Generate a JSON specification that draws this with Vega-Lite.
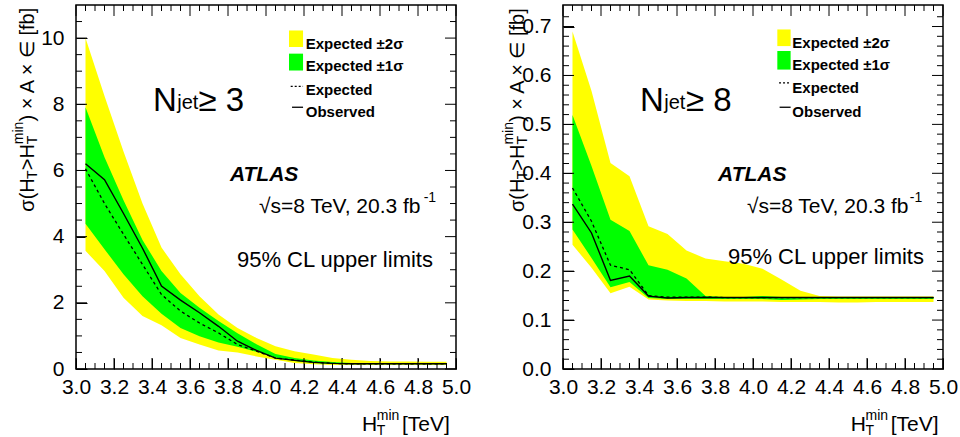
{
"$schema": "https://vega.github.io/schema/vega-lite/v6.json",
"background": "white",
"padding": {"left": 10, "top": 3, "right": 5, "bottom": 0},
"spacing": 28,
"config": {
  "view": {"stroke": "black", "strokeWidth": 1.5},
  "axis": {"labelColor": "black", "labelFont": "Liberation Sans", "labelFontSize": 21, "grid": false, "labelFlush": false, "labelOverlap": false, "domain": false, "ticks": true, "tickColor": "#000000", "tickOpacity": 1, "tickWidth": 1},
  "text": {"font": "Liberation Sans", "color": "black"},
  "rule": {"color": "black", "strokeWidth": 1}
},
"datasets": {
  "one": [{}],
  "xmaj": [{"v":3},{"v":3.2},{"v":3.4},{"v":3.6},{"v":3.8},{"v":4},{"v":4.2},{"v":4.4},{"v":4.6},{"v":4.8},{"v":5}],
  "xmin": [{"v":3.05},{"v":3.1},{"v":3.15},{"v":3.25},{"v":3.3},{"v":3.35},{"v":3.45},{"v":3.5},{"v":3.55},{"v":3.65},{"v":3.7},{"v":3.75},{"v":3.85},{"v":3.9},{"v":3.95},{"v":4.05},{"v":4.1},{"v":4.15},{"v":4.25},{"v":4.3},{"v":4.35},{"v":4.45},{"v":4.5},{"v":4.55},{"v":4.65},{"v":4.7},{"v":4.75},{"v":4.85},{"v":4.9},{"v":4.95}],
  "ymaj3": [{"v":0},{"v":2},{"v":4},{"v":6},{"v":8},{"v":10}],
  "ymin3": [{"v":0.5},{"v":1},{"v":1.5},{"v":2.5},{"v":3},{"v":3.5},{"v":4.5},{"v":5},{"v":5.5},{"v":6.5},{"v":7},{"v":7.5},{"v":8.5},{"v":9},{"v":9.5},{"v":10.5}],
  "ymaj8": [{"v":0},{"v":0.1},{"v":0.2},{"v":0.3},{"v":0.4},{"v":0.5},{"v":0.6},{"v":0.7}],
  "ymin8": [{"v":0.02},{"v":0.04},{"v":0.06},{"v":0.08},{"v":0.12},{"v":0.14},{"v":0.16},{"v":0.18},{"v":0.22},{"v":0.24},{"v":0.26},{"v":0.28},{"v":0.32},{"v":0.34},{"v":0.36},{"v":0.38},{"v":0.42},{"v":0.44},{"v":0.46},{"v":0.48},{"v":0.52},{"v":0.54},{"v":0.56},{"v":0.58},{"v":0.62},{"v":0.64},{"v":0.66},{"v":0.68},{"v":0.72}],
  "n3": [
    {"x":3.05,"lo2":3.57,"lo1":4.39,"hi1":7.91,"hi2":10.0,"exp":6.05,"obs":6.2},
    {"x":3.15,"lo2":2.96,"lo1":3.62,"hi1":6.4,"hi2":8.25,"exp":5.0,"obs":5.72},
    {"x":3.25,"lo2":2.15,"lo1":2.86,"hi1":5.1,"hi2":6.57,"exp":4.07,"obs":4.7},
    {"x":3.35,"lo2":1.6,"lo1":2.2,"hi1":3.9,"hi2":5.0,"exp":3.16,"obs":3.65},
    {"x":3.45,"lo2":1.32,"lo1":1.67,"hi1":2.96,"hi2":3.67,"exp":2.25,"obs":2.51},
    {"x":3.55,"lo2":0.94,"lo1":1.24,"hi1":2.3,"hi2":2.86,"exp":1.75,"obs":2.08},
    {"x":3.65,"lo2":0.74,"lo1":0.99,"hi1":1.85,"hi2":2.2,"exp":1.39,"obs":1.7},
    {"x":3.75,"lo2":0.56,"lo1":0.8,"hi1":1.45,"hi2":1.65,"exp":1.09,"obs":1.29},
    {"x":3.85,"lo2":0.5,"lo1":0.67,"hi1":1.08,"hi2":1.24,"exp":0.74,"obs":0.84},
    {"x":3.95,"lo2":0.38,"lo1":0.52,"hi1":0.75,"hi2":0.94,"exp":0.54,"obs":0.56},
    {"x":4.05,"lo2":0.28,"lo1":0.35,"hi1":0.45,"hi2":0.69,"exp":0.33,"obs":0.33},
    {"x":4.15,"lo2":0.18,"lo1":0.24,"hi1":0.33,"hi2":0.54,"exp":0.27,"obs":0.26},
    {"x":4.25,"lo2":0.14,"lo1":0.18,"hi1":0.26,"hi2":0.44,"exp":0.21,"obs":0.2},
    {"x":4.35,"lo2":0.12,"lo1":0.15,"hi1":0.21,"hi2":0.33,"exp":0.17,"obs":0.17},
    {"x":4.45,"lo2":0.12,"lo1":0.14,"hi1":0.18,"hi2":0.28,"exp":0.155,"obs":0.16},
    {"x":4.55,"lo2":0.12,"lo1":0.14,"hi1":0.17,"hi2":0.24,"exp":0.155,"obs":0.16},
    {"x":4.65,"lo2":0.12,"lo1":0.14,"hi1":0.17,"hi2":0.23,"exp":0.155,"obs":0.16},
    {"x":4.75,"lo2":0.12,"lo1":0.14,"hi1":0.17,"hi2":0.23,"exp":0.155,"obs":0.16},
    {"x":4.85,"lo2":0.12,"lo1":0.14,"hi1":0.17,"hi2":0.22,"exp":0.155,"obs":0.16},
    {"x":4.95,"lo2":0.12,"lo1":0.14,"hi1":0.17,"hi2":0.22,"exp":0.155,"obs":0.16}
  ],
  "n8": [
    {"x":3.05,"lo2":0.254,"lo1":0.285,"hi1":0.519,"hi2":0.690,"exp":0.370,"obs":0.337},
    {"x":3.15,"lo2":0.207,"lo1":0.227,"hi1":0.415,"hi2":0.568,"exp":0.302,"obs":0.278},
    {"x":3.25,"lo2":0.155,"lo1":0.167,"hi1":0.305,"hi2":0.421,"exp":0.212,"obs":0.181},
    {"x":3.35,"lo2":0.168,"lo1":0.178,"hi1":0.282,"hi2":0.394,"exp":0.203,"obs":0.190},
    {"x":3.45,"lo2":0.142,"lo1":0.145,"hi1":0.212,"hi2":0.292,"exp":0.150,"obs":0.149},
    {"x":3.55,"lo2":0.140,"lo1":0.143,"hi1":0.203,"hi2":0.276,"exp":0.147,"obs":0.145},
    {"x":3.65,"lo2":0.139,"lo1":0.143,"hi1":0.185,"hi2":0.242,"exp":0.147,"obs":0.146},
    {"x":3.75,"lo2":0.139,"lo1":0.143,"hi1":0.149,"hi2":0.226,"exp":0.147,"obs":0.146},
    {"x":3.85,"lo2":0.138,"lo1":0.143,"hi1":0.147,"hi2":0.220,"exp":0.146,"obs":0.146},
    {"x":3.95,"lo2":0.138,"lo1":0.143,"hi1":0.147,"hi2":0.215,"exp":0.146,"obs":0.146},
    {"x":4.05,"lo2":0.138,"lo1":0.143,"hi1":0.149,"hi2":0.205,"exp":0.146,"obs":0.146},
    {"x":4.15,"lo2":0.137,"lo1":0.141,"hi1":0.147,"hi2":0.183,"exp":0.146,"obs":0.146},
    {"x":4.25,"lo2":0.137,"lo1":0.142,"hi1":0.147,"hi2":0.160,"exp":0.146,"obs":0.146},
    {"x":4.35,"lo2":0.137,"lo1":0.143,"hi1":0.147,"hi2":0.149,"exp":0.146,"obs":0.146},
    {"x":4.45,"lo2":0.136,"lo1":0.143,"hi1":0.147,"hi2":0.148,"exp":0.146,"obs":0.146},
    {"x":4.55,"lo2":0.136,"lo1":0.143,"hi1":0.147,"hi2":0.148,"exp":0.146,"obs":0.146},
    {"x":4.65,"lo2":0.137,"lo1":0.143,"hi1":0.147,"hi2":0.148,"exp":0.146,"obs":0.146},
    {"x":4.75,"lo2":0.137,"lo1":0.143,"hi1":0.147,"hi2":0.148,"exp":0.146,"obs":0.146},
    {"x":4.85,"lo2":0.137,"lo1":0.143,"hi1":0.147,"hi2":0.148,"exp":0.146,"obs":0.146},
    {"x":4.95,"lo2":0.137,"lo1":0.143,"hi1":0.147,"hi2":0.148,"exp":0.146,"obs":0.146}
  ]
},
"hconcat": [
{
  "width": 380, "height": 364,
  "resolve": {"axis": {"x": "independent", "y": "independent"}},
  "layer": [
    {"data": {"name": "n3"}, "mark": {"type": "area", "color": "#ffff00"},
     "encoding": {
       "x": {"field": "x", "type": "quantitative", "scale": {"domain": [3, 5], "nice": false, "zero": false},
             "axis": {"orient": "bottom", "title": null, "values": [3,3.2,3.4,3.6,3.8,4,4.2,4.4,4.6,4.8,5], "format": ".1f", "offset": -11, "tickSize": 11, "labelPadding": 7}},
       "y": {"field": "lo2", "type": "quantitative", "scale": {"domain": [0, 11], "nice": false, "zero": false},
             "axis": {"orient": "left", "title": null, "values": [0,2,4,6,8,10], "offset": -11, "tickSize": 11, "labelPadding": 12}},
       "y2": {"field": "hi2"}}},
    {"data": {"name": "n3"}, "mark": {"type": "area", "color": "#00ff00"},
     "encoding": {"x": {"field": "x", "type": "quantitative", "axis": null}, "y": {"field": "lo1", "type": "quantitative", "axis": null}, "y2": {"field": "hi1"}}},
    {"data": {"name": "n3"}, "mark": {"type": "line", "color": "black", "strokeWidth": 1.3, "strokeDash": [3, 3]},
     "encoding": {"x": {"field": "x", "type": "quantitative", "axis": null}, "y": {"field": "exp", "type": "quantitative", "axis": null}}},
    {"data": {"name": "n3"}, "mark": {"type": "line", "color": "black", "strokeWidth": 1.4},
     "encoding": {"x": {"field": "x", "type": "quantitative", "axis": null}, "y": {"field": "obs", "type": "quantitative", "axis": null}}},
    {"data": {"name": "xmaj"}, "mark": {"type": "rule", "y2Offset": -11},
     "encoding": {"x": {"field": "v", "type": "quantitative", "axis": null}, "y": {"datum": 0, "type": "quantitative", "axis": null}, "y2": {"datum": 0}}},
    {"data": {"name": "xmin"}, "mark": {"type": "rule", "y2Offset": -6},
     "encoding": {"x": {"field": "v", "type": "quantitative", "axis": null}, "y": {"datum": 0, "type": "quantitative", "axis": null}, "y2": {"datum": 0}}},
    {"data": {"name": "xmaj"}, "mark": {"type": "rule", "y2Offset": 11},
     "encoding": {"x": {"field": "v", "type": "quantitative", "axis": null}, "y": {"datum": 11, "type": "quantitative", "axis": null}, "y2": {"datum": 11}}},
    {"data": {"name": "xmin"}, "mark": {"type": "rule", "y2Offset": 6},
     "encoding": {"x": {"field": "v", "type": "quantitative", "axis": null}, "y": {"datum": 11, "type": "quantitative", "axis": null}, "y2": {"datum": 11}}},
    {"data": {"name": "ymaj3"}, "mark": {"type": "rule", "x2Offset": 11},
     "encoding": {"y": {"field": "v", "type": "quantitative", "axis": null}, "x": {"datum": 3, "type": "quantitative", "axis": null}, "x2": {"datum": 3}}},
    {"data": {"name": "ymin3"}, "mark": {"type": "rule", "x2Offset": 6},
     "encoding": {"y": {"field": "v", "type": "quantitative", "axis": null}, "x": {"datum": 3, "type": "quantitative", "axis": null}, "x2": {"datum": 3}}},
    {"data": {"name": "ymaj3"}, "mark": {"type": "rule", "x2Offset": -11},
     "encoding": {"y": {"field": "v", "type": "quantitative", "axis": null}, "x": {"datum": 5, "type": "quantitative", "axis": null}, "x2": {"datum": 5}}},
    {"data": {"name": "ymin3"}, "mark": {"type": "rule", "x2Offset": -6},
     "encoding": {"y": {"field": "v", "type": "quantitative", "axis": null}, "x": {"datum": 5, "type": "quantitative", "axis": null}, "x2": {"datum": 5}}},
    {"data": {"name": "one"}, "mark": {"type": "rect", "color": "#ffff00"},
     "encoding": {"x": {"datum": 4.121, "type": "quantitative", "axis": null}, "x2": {"datum": 4.195},
                  "y": {"datum": 9.73, "type": "quantitative", "axis": null}, "y2": {"datum": 10.23}}},
    {"data": {"name": "one"}, "mark": {"type": "rect", "color": "#00ff00"},
     "encoding": {"x": {"datum": 4.121, "type": "quantitative", "axis": null}, "x2": {"datum": 4.195},
                  "y": {"datum": 9.02, "type": "quantitative", "axis": null}, "y2": {"datum": 9.53}}},
    {"data": {"name": "one"}, "mark": {"type": "rule", "color": "black", "strokeWidth": 1.2, "strokeDash": [2, 2]},
     "encoding": {"x": {"datum": 4.13, "type": "quantitative", "axis": null}, "x2": {"datum": 4.195},
                  "y": {"datum": 8.54, "type": "quantitative", "axis": null}}},
    {"data": {"name": "one"}, "mark": {"type": "rule", "color": "black", "strokeWidth": 1.3},
     "encoding": {"x": {"datum": 4.137, "type": "quantitative", "axis": null}, "x2": {"datum": 4.195},
                  "y": {"datum": 7.91, "type": "quantitative", "axis": null}}},
    {"data": {"name": "one"}, "mark": {"type": "text", "text": "Expected ±2σ", "fontSize": 15, "fontWeight": "bold", "align": "left"},
     "encoding": {"x": {"datum": 4.209, "type": "quantitative", "axis": null}, "y": {"datum": 9.83, "type": "quantitative", "axis": null}}},
    {"data": {"name": "one"}, "mark": {"type": "text", "text": "Expected ±1σ", "fontSize": 15, "fontWeight": "bold", "align": "left"},
     "encoding": {"x": {"datum": 4.209, "type": "quantitative", "axis": null}, "y": {"datum": 9.15, "type": "quantitative", "axis": null}}},
    {"data": {"name": "one"}, "mark": {"type": "text", "text": "Expected", "fontSize": 15, "fontWeight": "bold", "align": "left"},
     "encoding": {"x": {"datum": 4.209, "type": "quantitative", "axis": null}, "y": {"datum": 8.44, "type": "quantitative", "axis": null}}},
    {"data": {"name": "one"}, "mark": {"type": "text", "text": "Observed", "fontSize": 15, "fontWeight": "bold", "align": "left"},
     "encoding": {"x": {"datum": 4.209, "type": "quantitative", "axis": null}, "y": {"datum": 7.76, "type": "quantitative", "axis": null}}},
    {"data": {"name": "one"}, "mark": {"type": "text", "text": "N", "fontSize": 33, "align": "left"},
     "encoding": {"x": {"datum": 3.405, "type": "quantitative", "axis": null}, "y": {"datum": 8.11, "type": "quantitative", "axis": null}}},
    {"data": {"name": "one"}, "mark": {"type": "text", "text": "jet", "fontSize": 20, "align": "left"},
     "encoding": {"x": {"datum": 3.533, "type": "quantitative", "axis": null}, "y": {"datum": 8.05, "type": "quantitative", "axis": null}}},
    {"data": {"name": "one"}, "mark": {"type": "text", "text": "≥ 3", "fontSize": 33, "align": "left"},
     "encoding": {"x": {"datum": 3.645, "type": "quantitative", "axis": null}, "y": {"datum": 8.11, "type": "quantitative", "axis": null}}},
    {"data": {"name": "one"}, "mark": {"type": "text", "text": "ATLAS", "fontSize": 21, "fontWeight": "bold", "fontStyle": "italic", "align": "left"},
     "encoding": {"x": {"datum": 3.81, "type": "quantitative", "axis": null}, "y": {"datum": 5.87, "type": "quantitative", "axis": null}}},
    {"data": {"name": "one"}, "mark": {"type": "text", "text": "√s=8 TeV, 20.3 fb", "fontSize": 21, "align": "left"},
     "encoding": {"x": {"datum": 3.963, "type": "quantitative", "axis": null}, "y": {"datum": 4.9, "type": "quantitative", "axis": null}}},
    {"data": {"name": "one"}, "mark": {"type": "text", "text": "-1", "fontSize": 14, "align": "left"},
     "encoding": {"x": {"datum": 4.83, "type": "quantitative", "axis": null}, "y": {"datum": 5.17, "type": "quantitative", "axis": null}}},
    {"data": {"name": "one"}, "mark": {"type": "text", "text": "95% CL upper limits", "fontSize": 22, "align": "left"},
     "encoding": {"x": {"datum": 3.847, "type": "quantitative", "axis": null}, "y": {"datum": 3.29, "type": "quantitative", "axis": null}}},
    {"data": {"name": "one"}, "mark": {"type": "text", "text": "σ(H", "fontSize": 20, "align": "left", "angle": 270},
     "encoding": {"x": {"datum": 2.745, "type": "quantitative", "axis": null}, "y": {"datum": 4.755, "type": "quantitative", "axis": null}}},
    {"data": {"name": "one"}, "mark": {"type": "text", "text": "T", "fontSize": 14, "align": "left", "angle": 270, "dy": 5},
     "encoding": {"x": {"datum": 2.745, "type": "quantitative", "axis": null}, "y": {"datum": 5.745, "type": "quantitative", "axis": null}}},
    {"data": {"name": "one"}, "mark": {"type": "text", "text": ">H", "fontSize": 20, "align": "left", "angle": 270},
     "encoding": {"x": {"datum": 2.745, "type": "quantitative", "axis": null}, "y": {"datum": 6.006, "type": "quantitative", "axis": null}}},
    {"data": {"name": "one"}, "mark": {"type": "text", "text": "T", "fontSize": 14, "align": "left", "angle": 270, "dy": 5},
     "encoding": {"x": {"datum": 2.745, "type": "quantitative", "axis": null}, "y": {"datum": 6.794, "type": "quantitative", "axis": null}}},
    {"data": {"name": "one"}, "mark": {"type": "text", "text": "min", "fontSize": 14, "align": "left", "angle": 270, "dy": -9},
     "encoding": {"x": {"datum": 2.745, "type": "quantitative", "axis": null}, "y": {"datum": 6.794, "type": "quantitative", "axis": null}}},
    {"data": {"name": "one"}, "mark": {"type": "text", "text": ") × A × ∈ [fb]", "fontSize": 20, "align": "left", "angle": 270},
     "encoding": {"x": {"datum": 2.745, "type": "quantitative", "axis": null}, "y": {"datum": 7.479, "type": "quantitative", "axis": null}}},
    {"data": {"name": "one"}, "mark": {"type": "text", "text": "H", "fontSize": 21, "align": "left"},
     "encoding": {"x": {"datum": 4.505, "type": "quantitative", "axis": null}, "y": {"datum": -1.70, "type": "quantitative", "axis": null}}},
    {"data": {"name": "one"}, "mark": {"type": "text", "text": "T", "fontSize": 14, "align": "left", "dy": 6},
     "encoding": {"x": {"datum": 4.583, "type": "quantitative", "axis": null}, "y": {"datum": -1.70, "type": "quantitative", "axis": null}}},
    {"data": {"name": "one"}, "mark": {"type": "text", "text": "min", "fontSize": 14, "align": "left", "dy": -9},
     "encoding": {"x": {"datum": 4.583, "type": "quantitative", "axis": null}, "y": {"datum": -1.70, "type": "quantitative", "axis": null}}},
    {"data": {"name": "one"}, "mark": {"type": "text", "text": "[TeV]", "fontSize": 21, "align": "left"},
     "encoding": {"x": {"datum": 4.716, "type": "quantitative", "axis": null}, "y": {"datum": -1.70, "type": "quantitative", "axis": null}}}
  ]
},
{
  "width": 380, "height": 364,
  "resolve": {"axis": {"x": "independent", "y": "independent"}},
  "layer": [
    {"data": {"name": "n8"}, "mark": {"type": "area", "color": "#ffff00"},
     "encoding": {
       "x": {"field": "x", "type": "quantitative", "scale": {"domain": [3, 5], "nice": false, "zero": false},
             "axis": {"orient": "bottom", "title": null, "values": [3,3.2,3.4,3.6,3.8,4,4.2,4.4,4.6,4.8,5], "format": ".1f", "offset": -11, "tickSize": 11, "labelPadding": 7}},
       "y": {"field": "lo2", "type": "quantitative", "scale": {"domain": [0, 0.744], "nice": false, "zero": false},
             "axis": {"orient": "left", "title": null, "values": [0,0.1,0.2,0.3,0.4,0.5,0.6,0.7], "format": ".1f", "offset": -11, "tickSize": 11, "labelPadding": 12}},
       "y2": {"field": "hi2"}}},
    {"data": {"name": "n8"}, "mark": {"type": "area", "color": "#00ff00"},
     "encoding": {"x": {"field": "x", "type": "quantitative", "axis": null}, "y": {"field": "lo1", "type": "quantitative", "axis": null}, "y2": {"field": "hi1"}}},
    {"data": {"name": "n8"}, "mark": {"type": "line", "color": "black", "strokeWidth": 1.3, "strokeDash": [3, 3]},
     "encoding": {"x": {"field": "x", "type": "quantitative", "axis": null}, "y": {"field": "exp", "type": "quantitative", "axis": null}}},
    {"data": {"name": "n8"}, "mark": {"type": "line", "color": "black", "strokeWidth": 1.4},
     "encoding": {"x": {"field": "x", "type": "quantitative", "axis": null}, "y": {"field": "obs", "type": "quantitative", "axis": null}}},
    {"data": {"name": "xmaj"}, "mark": {"type": "rule", "y2Offset": -11},
     "encoding": {"x": {"field": "v", "type": "quantitative", "axis": null}, "y": {"datum": 0, "type": "quantitative", "axis": null}, "y2": {"datum": 0}}},
    {"data": {"name": "xmin"}, "mark": {"type": "rule", "y2Offset": -6},
     "encoding": {"x": {"field": "v", "type": "quantitative", "axis": null}, "y": {"datum": 0, "type": "quantitative", "axis": null}, "y2": {"datum": 0}}},
    {"data": {"name": "xmaj"}, "mark": {"type": "rule", "y2Offset": 11},
     "encoding": {"x": {"field": "v", "type": "quantitative", "axis": null}, "y": {"datum": 0.744, "type": "quantitative", "axis": null}, "y2": {"datum": 0.744}}},
    {"data": {"name": "xmin"}, "mark": {"type": "rule", "y2Offset": 6},
     "encoding": {"x": {"field": "v", "type": "quantitative", "axis": null}, "y": {"datum": 0.744, "type": "quantitative", "axis": null}, "y2": {"datum": 0.744}}},
    {"data": {"name": "ymaj8"}, "mark": {"type": "rule", "x2Offset": 11},
     "encoding": {"y": {"field": "v", "type": "quantitative", "axis": null}, "x": {"datum": 3, "type": "quantitative", "axis": null}, "x2": {"datum": 3}}},
    {"data": {"name": "ymin8"}, "mark": {"type": "rule", "x2Offset": 6},
     "encoding": {"y": {"field": "v", "type": "quantitative", "axis": null}, "x": {"datum": 3, "type": "quantitative", "axis": null}, "x2": {"datum": 3}}},
    {"data": {"name": "ymaj8"}, "mark": {"type": "rule", "x2Offset": -11},
     "encoding": {"y": {"field": "v", "type": "quantitative", "axis": null}, "x": {"datum": 5, "type": "quantitative", "axis": null}, "x2": {"datum": 5}}},
    {"data": {"name": "ymin8"}, "mark": {"type": "rule", "x2Offset": -6},
     "encoding": {"y": {"field": "v", "type": "quantitative", "axis": null}, "x": {"datum": 5, "type": "quantitative", "axis": null}, "x2": {"datum": 5}}},
    {"data": {"name": "one"}, "mark": {"type": "rect", "color": "#ffff00"},
     "encoding": {"x": {"datum": 4.128, "type": "quantitative", "axis": null}, "x2": {"datum": 4.198},
                  "y": {"datum": 0.660, "type": "quantitative", "axis": null}, "y2": {"datum": 0.694}}},
    {"data": {"name": "one"}, "mark": {"type": "rect", "color": "#00ff00"},
     "encoding": {"x": {"datum": 4.128, "type": "quantitative", "axis": null}, "x2": {"datum": 4.198},
                  "y": {"datum": 0.612, "type": "quantitative", "axis": null}, "y2": {"datum": 0.650}}},
    {"data": {"name": "one"}, "mark": {"type": "rule", "color": "black", "strokeWidth": 1.2, "strokeDash": [2, 2]},
     "encoding": {"x": {"datum": 4.137, "type": "quantitative", "axis": null}, "x2": {"datum": 4.198},
                  "y": {"datum": 0.585, "type": "quantitative", "axis": null}}},
    {"data": {"name": "one"}, "mark": {"type": "rule", "color": "black", "strokeWidth": 1.3},
     "encoding": {"x": {"datum": 4.14, "type": "quantitative", "axis": null}, "x2": {"datum": 4.198},
                  "y": {"datum": 0.535, "type": "quantitative", "axis": null}}},
    {"data": {"name": "one"}, "mark": {"type": "text", "text": "Expected ±2σ", "fontSize": 15, "fontWeight": "bold", "align": "left"},
     "encoding": {"x": {"datum": 4.207, "type": "quantitative", "axis": null}, "y": {"datum": 0.6667, "type": "quantitative", "axis": null}}},
    {"data": {"name": "one"}, "mark": {"type": "text", "text": "Expected ±1σ", "fontSize": 15, "fontWeight": "bold", "align": "left"},
     "encoding": {"x": {"datum": 4.207, "type": "quantitative", "axis": null}, "y": {"datum": 0.621, "type": "quantitative", "axis": null}}},
    {"data": {"name": "one"}, "mark": {"type": "text", "text": "Expected", "fontSize": 15, "fontWeight": "bold", "align": "left"},
     "encoding": {"x": {"datum": 4.207, "type": "quantitative", "axis": null}, "y": {"datum": 0.5734, "type": "quantitative", "axis": null}}},
    {"data": {"name": "one"}, "mark": {"type": "text", "text": "Observed", "fontSize": 15, "fontWeight": "bold", "align": "left"},
     "encoding": {"x": {"datum": 4.207, "type": "quantitative", "axis": null}, "y": {"datum": 0.5256, "type": "quantitative", "axis": null}}},
    {"data": {"name": "one"}, "mark": {"type": "text", "text": "N", "fontSize": 33, "align": "left"},
     "encoding": {"x": {"datum": 3.405, "type": "quantitative", "axis": null}, "y": {"datum": 0.5474, "type": "quantitative", "axis": null}}},
    {"data": {"name": "one"}, "mark": {"type": "text", "text": "jet", "fontSize": 20, "align": "left"},
     "encoding": {"x": {"datum": 3.533, "type": "quantitative", "axis": null}, "y": {"datum": 0.5434, "type": "quantitative", "axis": null}}},
    {"data": {"name": "one"}, "mark": {"type": "text", "text": "≥ 8", "fontSize": 33, "align": "left"},
     "encoding": {"x": {"datum": 3.647, "type": "quantitative", "axis": null}, "y": {"datum": 0.5474, "type": "quantitative", "axis": null}}},
    {"data": {"name": "one"}, "mark": {"type": "text", "text": "ATLAS", "fontSize": 21, "fontWeight": "bold", "fontStyle": "italic", "align": "left"},
     "encoding": {"x": {"datum": 3.816, "type": "quantitative", "axis": null}, "y": {"datum": 0.3961, "type": "quantitative", "axis": null}}},
    {"data": {"name": "one"}, "mark": {"type": "text", "text": "√s=8 TeV, 20.3 fb", "fontSize": 21, "align": "left"},
     "encoding": {"x": {"datum": 3.968, "type": "quantitative", "axis": null}, "y": {"datum": 0.3307, "type": "quantitative", "axis": null}}},
    {"data": {"name": "one"}, "mark": {"type": "text", "text": "-1", "fontSize": 14, "align": "left"},
     "encoding": {"x": {"datum": 4.825, "type": "quantitative", "axis": null}, "y": {"datum": 0.3491, "type": "quantitative", "axis": null}}},
    {"data": {"name": "one"}, "mark": {"type": "text", "text": "95% CL upper limits", "fontSize": 22, "align": "left"},
     "encoding": {"x": {"datum": 3.868, "type": "quantitative", "axis": null}, "y": {"datum": 0.2284, "type": "quantitative", "axis": null}}},
    {"data": {"name": "one"}, "mark": {"type": "text", "text": "σ(H", "fontSize": 20, "align": "left", "angle": 270},
     "encoding": {"x": {"datum": 2.761, "type": "quantitative", "axis": null}, "y": {"datum": 0.3209, "type": "quantitative", "axis": null}}},
    {"data": {"name": "one"}, "mark": {"type": "text", "text": "T", "fontSize": 14, "align": "left", "angle": 270, "dy": 5},
     "encoding": {"x": {"datum": 2.761, "type": "quantitative", "axis": null}, "y": {"datum": 0.3877, "type": "quantitative", "axis": null}}},
    {"data": {"name": "one"}, "mark": {"type": "text", "text": ">H", "fontSize": 20, "align": "left", "angle": 270},
     "encoding": {"x": {"datum": 2.761, "type": "quantitative", "axis": null}, "y": {"datum": 0.4053, "type": "quantitative", "axis": null}}},
    {"data": {"name": "one"}, "mark": {"type": "text", "text": "T", "fontSize": 14, "align": "left", "angle": 270, "dy": 5},
     "encoding": {"x": {"datum": 2.761, "type": "quantitative", "axis": null}, "y": {"datum": 0.4587, "type": "quantitative", "axis": null}}},
    {"data": {"name": "one"}, "mark": {"type": "text", "text": "min", "fontSize": 14, "align": "left", "angle": 270, "dy": -9},
     "encoding": {"x": {"datum": 2.761, "type": "quantitative", "axis": null}, "y": {"datum": 0.4587, "type": "quantitative", "axis": null}}},
    {"data": {"name": "one"}, "mark": {"type": "text", "text": ") × A × ∈ [fb]", "fontSize": 20, "align": "left", "angle": 270},
     "encoding": {"x": {"datum": 2.761, "type": "quantitative", "axis": null}, "y": {"datum": 0.5049, "type": "quantitative", "axis": null}}},
    {"data": {"name": "one"}, "mark": {"type": "text", "text": "H", "fontSize": 21, "align": "left"},
     "encoding": {"x": {"datum": 4.514, "type": "quantitative", "axis": null}, "y": {"datum": -0.1135, "type": "quantitative", "axis": null}}},
    {"data": {"name": "one"}, "mark": {"type": "text", "text": "T", "fontSize": 14, "align": "left", "dy": 6},
     "encoding": {"x": {"datum": 4.592, "type": "quantitative", "axis": null}, "y": {"datum": -0.1135, "type": "quantitative", "axis": null}}},
    {"data": {"name": "one"}, "mark": {"type": "text", "text": "min", "fontSize": 14, "align": "left", "dy": -9},
     "encoding": {"x": {"datum": 4.592, "type": "quantitative", "axis": null}, "y": {"datum": -0.1135, "type": "quantitative", "axis": null}}},
    {"data": {"name": "one"}, "mark": {"type": "text", "text": "[TeV]", "fontSize": 21, "align": "left"},
     "encoding": {"x": {"datum": 4.725, "type": "quantitative", "axis": null}, "y": {"datum": -0.1135, "type": "quantitative", "axis": null}}}
  ]
}
]
}
